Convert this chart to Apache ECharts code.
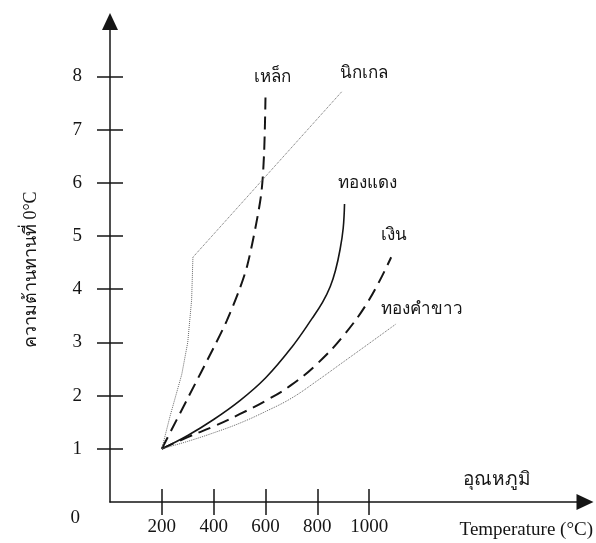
<!DOCTYPE html>
<html>
<head>
<meta charset="utf-8">
<script src="https://cdn.jsdelivr.net/npm/echarts@6/dist/echarts.min.js"></script>
<style>
  html, body { margin: 0; padding: 0; background: #fff; }
</style>
</head>
<body>
<div id="myChart" style="width: 596px; height: 543px;"></div>
<script>
const xTicks = [200, 400, 600, 800, 1000]
const yTicks = [0, 1, 2, 3, 4, 5, 6, 7, 8]

const names = ['เหล็ก', 'นิกเกล', 'ทองแดง', 'เงิน', 'ทองคำขาว']

// [temperature, resistance ratio]
const iron = [[200, 1], [300, 1.95], [400, 2.9], [450, 3.4], [500, 4.0], [530, 4.45], [565, 5.25], [585, 5.85], [595, 6.6], [600, 7.6]]
const nickel = [[200, 1], [231, 1.6], [277, 2.4], [300, 3.0], [315, 3.8], [320, 4.6], [896, 7.72]]
const copper = [[200, 1], [300, 1.25], [400, 1.55], [500, 1.9], [600, 2.33], [700, 2.9], [780, 3.45], [820, 3.75], [850, 4.05], [870, 4.35], [888, 4.75], [900, 5.15], [905, 5.6]]
const silver = [[200, 1], [300, 1.22], [400, 1.42], [500, 1.65], [600, 1.9], [700, 2.2], [800, 2.6], [900, 3.12], [1000, 3.8], [1085, 4.6]]
const whiteGold = [[200, 1], [300, 1.14], [400, 1.3], [500, 1.48], [600, 1.7], [700, 1.95], [800, 2.28], [900, 2.63], [1000, 2.98], [1105, 3.35]]

const serif = "'Liberation Serif', 'Times New Roman', serif"
const ink = '#151515'

function drawLine() {
  const myChart = echarts.init(document.getElementById('myChart'))

  const endLabel = (offset) => ({
    show: true,
    formatter: '{a}',
    distance: 0,
    offset: offset,
    align: 'center',
    verticalAlign: 'middle',
    color: ink,
    fontSize: 17,
    fontFamily: serif
  })

  const line = (name, data, type, width, offset, smooth) => ({
    name: name,
    type: 'line',
    data: data,
    symbol: 'none',
    smooth: smooth,
    lineStyle: { color: type === 'dotted' ? '#666' : ink, width: width, type: type },
    endLabel: endLabel(offset),
    animation: false
  })

  const xBase = {
    type: 'value',
    min: 0,
    max: 1833,
    position: 'bottom',
    splitLine: { show: false }
  }
  const yBase = {
    type: 'value',
    min: 0,
    max: 9.03,
    position: 'left',
    splitLine: { show: false }
  }
  const axisArrow = { show: true, symbol: ['none', 'triangle'], symbolSize: [16, 17], lineStyle: { color: ink, width: 1.5 } }

  const option = {
    grid: { left: 110, right: 9.5, top: 21.5, bottom: 41 },
    xAxis: [
      Object.assign({}, xBase, {
        name: 'อุณหภูมิ',
        nameLocation: 'end',
        nameGap: -54,
        nameTextStyle: { color: ink, fontSize: 19, fontFamily: serif, align: 'right', verticalAlign: 'bottom', padding: [0, 0, 12, 0] },
        axisLine: axisArrow,
        axisTick: { show: true, inside: false, length: 13, customValues: xTicks, lineStyle: { color: ink, width: 1.5 } },
        axisLabel: { show: true, customValues: xTicks, margin: 16, color: ink, fontSize: 19, fontFamily: serif, formatter: (v) => String(v) }
      }),
      Object.assign({}, xBase, {
        name: 'Temperature (°C)',
        nameLocation: 'end',
        nameGap: 8,
        nameTextStyle: { color: ink, fontSize: 19, fontFamily: serif, align: 'right', verticalAlign: 'top', padding: [19, 0, 0, 0] },
        axisLine: { show: false },
        axisTick: { show: true, inside: true, length: 13, customValues: xTicks, lineStyle: { color: ink, width: 1.5 } },
        axisLabel: { show: false }
      })
    ],
    yAxis: [
      Object.assign({}, yBase, {
        name: 'ความต้านทานที่ 0°C',
        nameLocation: 'middle',
        nameGap: 70,
        nameRotate: 90,
        nameTextStyle: { color: ink, fontSize: 18, fontFamily: serif, padding: [0, 16, 0, 0] },
        axisLine: axisArrow,
        axisTick: { show: true, inside: false, length: 13, customValues: yTicks.slice(1), lineStyle: { color: ink, width: 1.5 } },
        axisLabel: {
          show: true,
          customValues: yTicks,
          margin: 28,
          color: ink,
          fontSize: 19,
          fontFamily: serif,
          formatter: (v) => (v === 0 ? '{z|0}' : String(v)),
          rich: { z: { fontSize: 19, fontFamily: serif, color: ink, padding: [32, 2, 0, 0] } }
        }
      }),
      Object.assign({}, yBase, {
        axisLine: { show: false },
        axisTick: { show: true, inside: true, length: 13, customValues: yTicks.slice(1), lineStyle: { color: ink, width: 1.5 } },
        axisLabel: { show: false }
      })
    ],
    series: [
      line(names[0], iron, [13, 7], 2, [7, -20], 0.3),
      line(names[1], nickel, 'dotted', 1, [22, -18], false),
      line(names[2], copper, 'solid', 1.6, [23, -20], 0.4),
      line(names[3], silver, [13, 7], 2, [3, -22], 0.4),
      line(names[4], whiteGold, 'dotted', 1, [26, -14], 0.4)
    ]
  }

  myChart.setOption(option)
  window.addEventListener('resize', function() {
    myChart.resize()
  })
}

drawLine()
</script>
</body>
</html>
